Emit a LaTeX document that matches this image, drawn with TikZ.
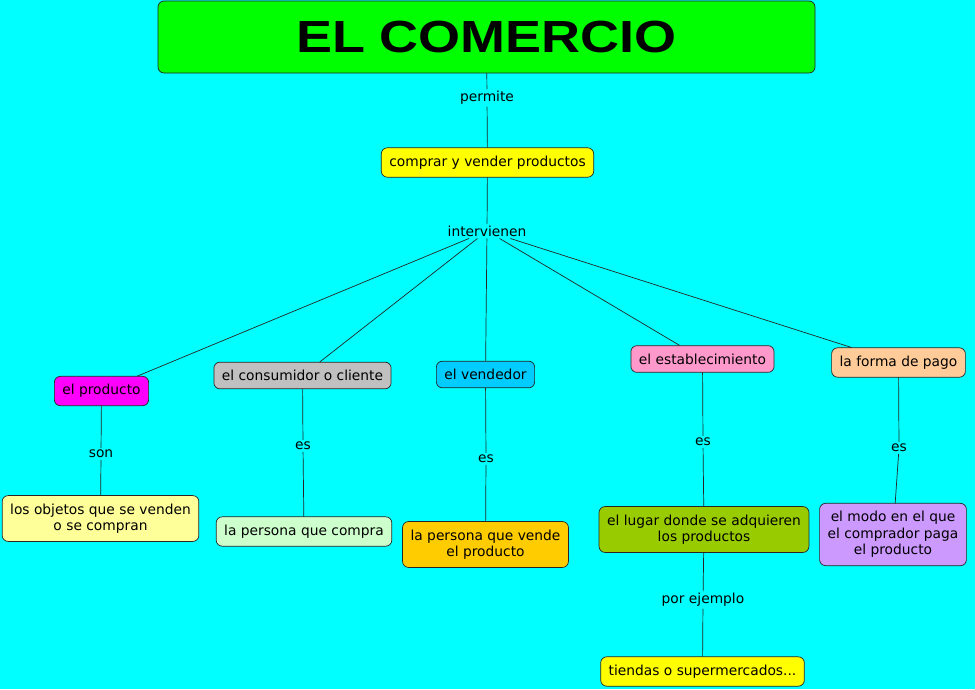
\documentclass[tikz,border=0pt]{standalone}
\usepackage{fontspec}
\setmainfont{DejaVu Sans}
\newfontfamily\titlefont{Liberation Sans}
\definecolor{mapback}{RGB}{0,255,255}
\definecolor{titlegreen}{RGB}{0,255,0}
\definecolor{boxyellow}{RGB}{255,255,0}
\definecolor{boxmagenta}{RGB}{255,0,255}
\definecolor{boxgray}{RGB}{192,192,192}
\definecolor{boxblue}{RGB}{0,204,255}
\definecolor{boxpink}{RGB}{255,153,204}
\definecolor{boxpeach}{RGB}{255,204,153}
\definecolor{boxpaleyellow}{RGB}{255,255,153}
\definecolor{boxpalegreen}{RGB}{204,255,204}
\definecolor{boxgold}{RGB}{255,204,0}
\definecolor{boxolive}{RGB}{153,204,0}
\definecolor{boxlilac}{RGB}{204,153,255}
\begin{document}
\begin{tikzpicture}[x=1pt,y=-1pt,line cap=round,line join=round]
\tikzset{
  concept/.style={draw=black!85,line width=0.7pt,rounded corners=6pt,
    inner xsep=8pt,inner ysep=8pt,align=center,
    font=\fontsize{13.8}{16.5}\selectfont},
  linkword/.style={fill=mapback,inner sep=2pt,font=\fontsize{13.8}{16.5}\selectfont},
  link/.style={draw=black!85,line width=0.7pt}
}
% background and page size
\fill[mapback] (0,0) rectangle (975,689);
\useasboundingbox (0,0) rectangle (975,689);

% title and first level
\node[concept,fill=titlegreen,minimum width=657pt,minimum height=72pt,
  font=\titlefont\bfseries\fontsize{45}{52}\selectfont] (comercio) at (486.5,37) {\scalebox{1.2}[1]{EL COMERCIO}};
\node[linkword] (permite) at (487,98) {permite};
\node[concept,fill=boxyellow] (comprar) at (487.5,162.5) {comprar y vender productos};
\node[linkword] (intervienen) at (487,231) {intervienen};

% those who take part
\node[concept,fill=boxmagenta] (producto) at (101.5,391) {el producto};
\node[concept,fill=boxgray] (consumidor) at (302.5,375.5) {el consumidor o cliente};
\node[concept,fill=boxblue] (vendedor) at (485.5,374.5) {el vendedor};
\node[concept,fill=boxpink] (establecimiento) at (702.5,359) {el establecimiento};
\node[concept,fill=boxpeach] (pago) at (898.5,362.5) {la forma de pago};

% link words
\node[linkword] (son) at (101,454) {son};
\node[linkword] (esA) at (303,446) {es};
\node[linkword] (esB) at (486,459) {es};
\node[linkword] (esC) at (703,442) {es};
\node[linkword] (esD) at (899,448) {es};
\node[linkword] (ejemplo) at (703,600) {por ejemplo};

% definitions
\node[concept,fill=boxpaleyellow] (objetos) at (100.5,518.5) {los objetos que se venden\\o se compran};
\node[concept,fill=boxpalegreen] (compra) at (304,531.5) {la persona que compra};
\node[concept,fill=boxgold] (vende) at (485.5,544.5) {la persona que vende\\el producto};
\node[concept,fill=boxolive] (lugar) at (704,529.5) {el lugar donde se adquieren\\los productos};
\node[concept,fill=boxlilac] (modo) at (893,534.5) {el modo en el que\\el comprador paga\\el producto};
\node[concept,fill=boxyellow] (tiendas) at (702.5,671.5) {tiendas o supermercados...};

% connectors
\draw[link] (comercio) -- (permite) -- (comprar) -- (intervienen);
\draw[link] (intervienen) -- (producto);
\draw[link] (intervienen) -- (consumidor);
\draw[link] (intervienen) -- (vendedor);
\draw[link] (intervienen) -- (establecimiento);
\draw[link] (intervienen) -- (pago);
\draw[link] (producto) -- (son) -- (objetos);
\draw[link] (consumidor) -- (esA) -- (compra);
\draw[link] (vendedor) -- (esB) -- (vende);
\draw[link] (establecimiento) -- (esC) -- (lugar);
\draw[link] (pago) -- (esD) -- (modo);
\draw[link] (lugar) -- (ejemplo) -- (tiendas);
\end{tikzpicture}
\end{document}
